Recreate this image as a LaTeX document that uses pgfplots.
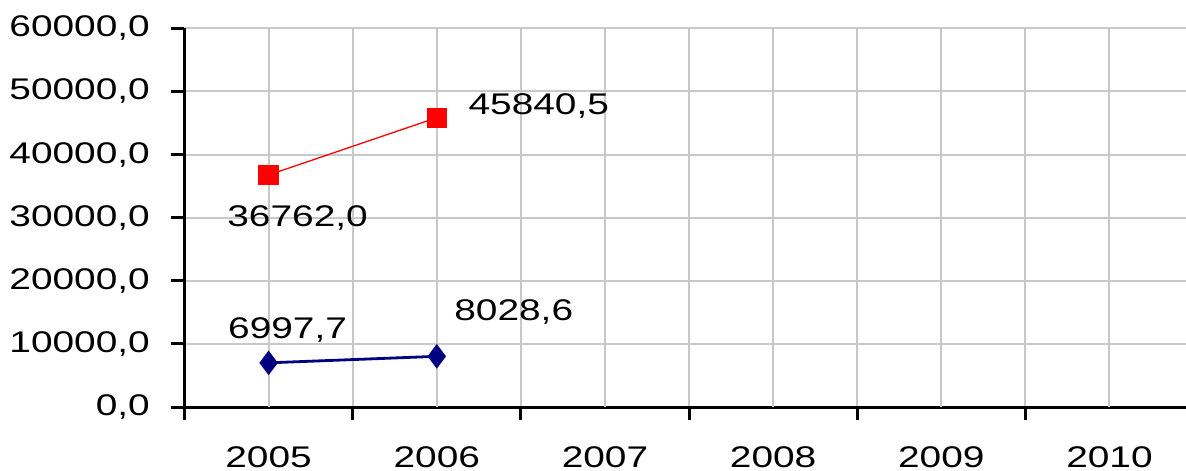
\documentclass[border=0pt]{standalone}
\usepackage{fontspec}
\setmainfont{Liberation Sans}
\usepackage{pgfplots}
\pgfplotsset{compat=1.18}
\definecolor{gridgray}{HTML}{C8C8C8}
\definecolor{navyline}{HTML}{000080}
\newcommand\lbl{\fontsize{8.5}{9.5}\selectfont}
\newcommand\sx[1]{\scalebox{1.3}[1]{#1}}

\begin{document}
\begin{tikzpicture}
\begin{axis}[
  at={(0,0)}, anchor=south west,
  scale only axis,
  width=100.15mm, height=37.87mm,
  xmin=-0.5, xmax=5.455,
  ymin=0, ymax=60000,
  axis x line=bottom, axis y line=left,
  axis line style={-, black, line width=0.3mm},
  xtick={-0.5,0.5,1.5,2.5,3.5,4.5},
  xticklabels={},
  extra x ticks={0,1,2,3,4,5},
  extra x tick labels={\sx{2005},\sx{2006},\sx{2007},\sx{2008},\sx{2009},\sx{2010}},
  extra x tick style={major tick length=0pt, grid=major},
  ytick={0,10000,20000,30000,40000,50000,60000},
  scaled y ticks=false,
  /pgf/number format/assume math mode=true,
  yticklabel={\sx{\pgfmathprintnumber[fixed,fixed zerofill,precision=1,use comma,1000 sep={},assume math mode=true]{\tick}}},
  tick align=outside,
  major tick length=1.3mm,
  tick style={black, line width=0.3mm},
  xmajorgrids, ymajorgrids,
  grid style={gridgray, line width=0.2mm},
  ticklabel style={font=\lbl, inner sep=0pt},
  yticklabel style={anchor=east, xshift=-2.1mm},
  xticklabel style={anchor=north, yshift=-3.9mm},
  clip=false,
]
% series 1 (red)
\addplot[red, line width=0.13mm, mark=square*, mark size=0.95mm, mark options={fill=red, draw=red}]
  coordinates {(0,36762.0) (1,45840.5)};
% series 2 (navy)
\addplot[navyline, line width=0.28mm, mark=diamond*, mark size=1.0mm, mark options={fill=navyline, draw=navyline}]
  coordinates {(0,6997.7) (1,8028.6)};

% value labels
\node[font=\lbl, inner sep=0pt] at (axis cs:0,36762.0) [xshift=2.9mm, yshift=-4.3mm] {\sx{36762,0}};
\node[font=\lbl, inner sep=0pt] at (axis cs:1,45840.5) [xshift=10.2mm, yshift=1.2mm] {\sx{45840,5}};
\node[font=\lbl, inner sep=0pt] at (axis cs:0,6997.7) [xshift=1.9mm, yshift=3.3mm] {\sx{6997,7}};
\node[font=\lbl, inner sep=0pt] at (axis cs:1,8028.6) [xshift=7.7mm, yshift=4.4mm] {\sx{8028,6}};
\end{axis}
\pgfresetboundingbox
\useasboundingbox (-18.45mm,-6.3mm) rectangle (100.15mm,40.7mm);
\end{tikzpicture}
\end{document}
